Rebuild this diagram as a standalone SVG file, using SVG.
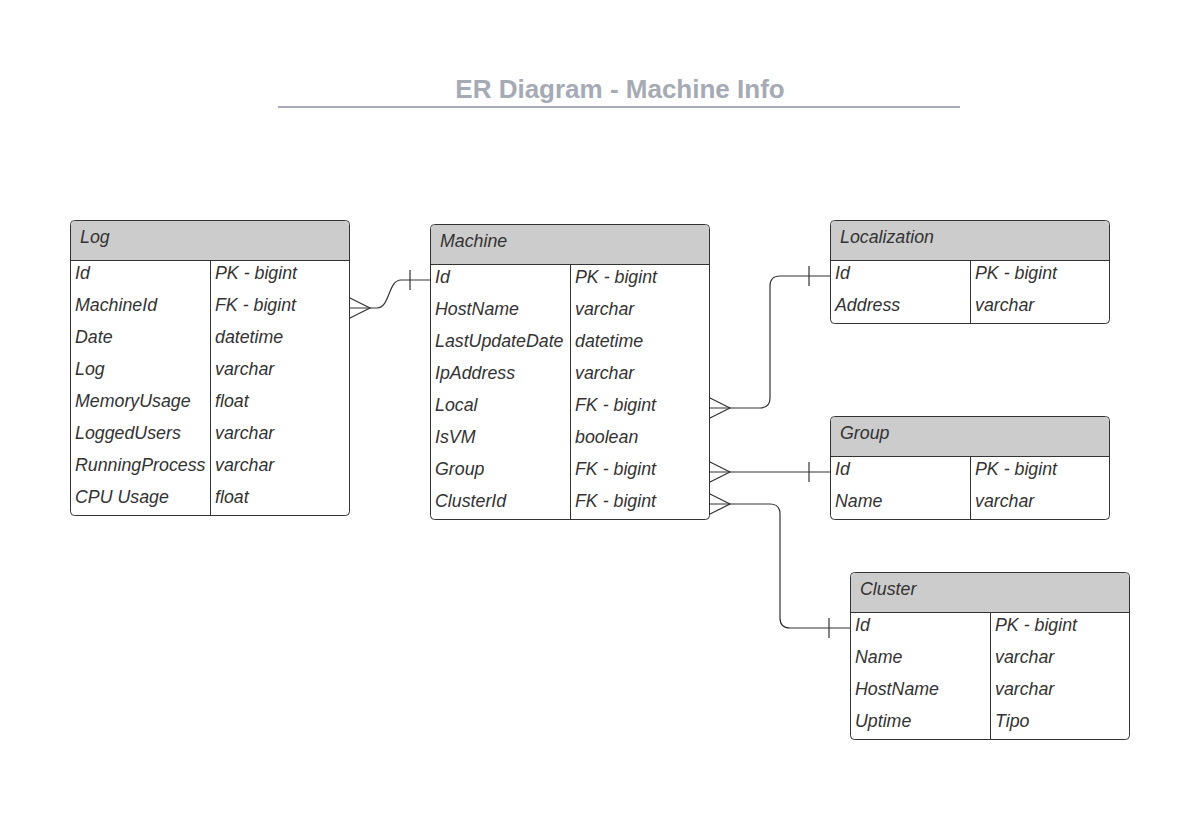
<svg xmlns="http://www.w3.org/2000/svg" width="1199" height="817" viewBox="0 0 1199 817">
<style>
.box{fill:#ffffff;stroke:#333333;stroke-width:1}
.hdr{fill:#cccccc}
.ln{stroke:#333333;stroke-width:1;fill:none}
.t{font-family:"Liberation Sans",Arial,sans-serif;font-style:italic;font-size:17.8px;fill:#333333}
.title{font-family:"Liberation Sans",Arial,sans-serif;font-weight:bold;font-size:26px;fill:#a5aab5}
.conn{stroke:#333333;stroke-width:1.2;fill:none}
</style>
<rect width="1199" height="817" fill="#ffffff"/>
<g id="title">
<text class="title" x="620" y="98" text-anchor="middle">ER Diagram - Machine Info</text>
<line x1="278" y1="107" x2="960" y2="107" stroke="#a5aab5" stroke-width="2"/>
</g>
<g id="log">
<rect class="box" x="70.5" y="220.5" width="279" height="295" rx="4"/>
<path class="hdr" d="M74.5,221 H345.5 A4,4 0 0 1 349,225 V260 H71 V225 A4,4 0 0 1 74.5,221 Z"/>
<line class="ln" x1="70" y1="260.5" x2="350" y2="260.5"/>
<line class="ln" x1="210.5" y1="260" x2="210.5" y2="516"/>
<text class="t" x="80" y="243">Log</text>
<text class="t" x="75" y="279">Id</text><text class="t" x="215" y="279">PK - bigint</text>
<text class="t" x="75" y="311">MachineId</text><text class="t" x="215" y="311">FK - bigint</text>
<text class="t" x="75" y="343">Date</text><text class="t" x="215" y="343">datetime</text>
<text class="t" x="75" y="375">Log</text><text class="t" x="215" y="375">varchar</text>
<text class="t" x="75" y="407">MemoryUsage</text><text class="t" x="215" y="407">float</text>
<text class="t" x="75" y="439">LoggedUsers</text><text class="t" x="215" y="439">varchar</text>
<text class="t" x="75" y="471">RunningProcess</text><text class="t" x="215" y="471">varchar</text>
<text class="t" x="75" y="503">CPU Usage</text><text class="t" x="215" y="503">float</text>
</g>
<g id="machine">
<rect class="box" x="430.5" y="224.5" width="279" height="295" rx="4"/>
<path class="hdr" d="M434.5,225 H705.5 A4,4 0 0 1 709,229 V264 H431 V229 A4,4 0 0 1 434.5,225 Z"/>
<line class="ln" x1="430" y1="264.5" x2="710" y2="264.5"/>
<line class="ln" x1="570.5" y1="264" x2="570.5" y2="520"/>
<text class="t" x="440" y="247">Machine</text>
<text class="t" x="435" y="283">Id</text><text class="t" x="575" y="283">PK - bigint</text>
<text class="t" x="435" y="315">HostName</text><text class="t" x="575" y="315">varchar</text>
<text class="t" x="435" y="347">LastUpdateDate</text><text class="t" x="575" y="347">datetime</text>
<text class="t" x="435" y="379">IpAddress</text><text class="t" x="575" y="379">varchar</text>
<text class="t" x="435" y="411">Local</text><text class="t" x="575" y="411">FK - bigint</text>
<text class="t" x="435" y="443">IsVM</text><text class="t" x="575" y="443">boolean</text>
<text class="t" x="435" y="475">Group</text><text class="t" x="575" y="475">FK - bigint</text>
<text class="t" x="435" y="507">ClusterId</text><text class="t" x="575" y="507">FK - bigint</text>
</g>
<g id="localization">
<rect class="box" x="830.5" y="220.5" width="279" height="103" rx="4"/>
<path class="hdr" d="M834.5,221 H1105.5 A4,4 0 0 1 1109,225 V260 H831 V225 A4,4 0 0 1 834.5,221 Z"/>
<line class="ln" x1="830" y1="260.5" x2="1110" y2="260.5"/>
<line class="ln" x1="970.5" y1="260" x2="970.5" y2="324"/>
<text class="t" x="840" y="243">Localization</text>
<text class="t" x="835" y="279">Id</text><text class="t" x="975" y="279">PK - bigint</text>
<text class="t" x="835" y="311">Address</text><text class="t" x="975" y="311">varchar</text>
</g>
<g id="group">
<rect class="box" x="830.5" y="416.5" width="279" height="103" rx="4"/>
<path class="hdr" d="M834.5,417 H1105.5 A4,4 0 0 1 1109,421 V456 H831 V421 A4,4 0 0 1 834.5,417 Z"/>
<line class="ln" x1="830" y1="456.5" x2="1110" y2="456.5"/>
<line class="ln" x1="970.5" y1="456" x2="970.5" y2="520"/>
<text class="t" x="840" y="439">Group</text>
<text class="t" x="835" y="475">Id</text><text class="t" x="975" y="475">PK - bigint</text>
<text class="t" x="835" y="507">Name</text><text class="t" x="975" y="507">varchar</text>
</g>
<g id="cluster">
<rect class="box" x="850.5" y="572.5" width="279" height="167" rx="4"/>
<path class="hdr" d="M854.5,573 H1125.5 A4,4 0 0 1 1129,577 V612 H851 V577 A4,4 0 0 1 854.5,573 Z"/>
<line class="ln" x1="850" y1="612.5" x2="1130" y2="612.5"/>
<line class="ln" x1="990.5" y1="612" x2="990.5" y2="740"/>
<text class="t" x="860" y="595">Cluster</text>
<text class="t" x="855" y="631">Id</text><text class="t" x="995" y="631">PK - bigint</text>
<text class="t" x="855" y="663">Name</text><text class="t" x="995" y="663">varchar</text>
<text class="t" x="855" y="695">HostName</text><text class="t" x="995" y="695">varchar</text>
<text class="t" x="855" y="727">Uptime</text><text class="t" x="995" y="727">Tipo</text>
</g>
<g id="connectors">
<path class="conn" d="M350,308 H377 C390,308 388,280 401,280 H430"/>
<path class="conn" d="M350,298 L370,308 L350,318"/>
<line class="conn" x1="410" y1="270" x2="410" y2="290"/>
<path class="conn" d="M710,408 H760 Q770,408 770,398 V286 Q770,276 780,276 H830"/>
<path class="conn" d="M710,398 L730,408 L710,418"/>
<line class="conn" x1="809" y1="266" x2="809" y2="286"/>
<path class="conn" d="M710,472 H830"/>
<path class="conn" d="M710,462 L730,472 L710,482"/>
<line class="conn" x1="809" y1="462" x2="809" y2="482"/>
<path class="conn" d="M710,504 H770 Q780,504 780,514 V618 Q780,628 790,628 H850"/>
<path class="conn" d="M710,494 L730,504 L710,514"/>
<line class="conn" x1="829" y1="618" x2="829" y2="638"/>
</g>
</svg>
